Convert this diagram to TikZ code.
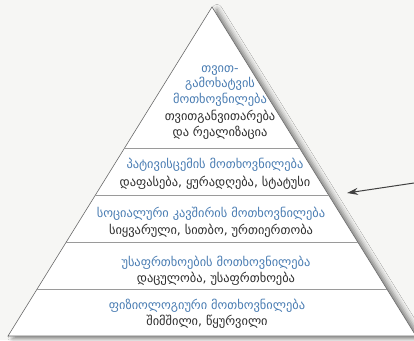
\documentclass[tikz,border=0pt]{standalone}
\usepackage{fontspec}
\setmainfont{DejaVu Sans}
\usetikzlibrary{calc,shadows.blur,arrows.meta}
\definecolor{paper}{HTML}{F6F6F4}
\definecolor{headblue}{HTML}{4A7DB3}
\definecolor{bodytext}{HTML}{2E2E2E}
\definecolor{edge}{HTML}{6A6A6A}
\definecolor{bandline}{HTML}{9A9A9A}
\begin{document}
\begin{tikzpicture}[x=1pt,y=-1pt,
  head/.style={text=headblue,font=\fontsize{12.4}{15.5}\selectfont,align=center,inner sep=0pt},
  body/.style={text=bodytext,font=\fontsize{12.4}{15.5}\selectfont,align=center,inner sep=0pt},
  band/.style={draw=bandline,line width=0.5pt},
  pointer/.style={draw=black!75,line width=1pt,-{Stealth[length=11pt,width=7pt]}}]
\fill[paper] (0,0) rectangle (414,340);
\useasboundingbox (0,0) rectangle (414,340);
\coordinate (apex) at (212,7);
\coordinate (bl) at (8,336);
\coordinate (br) at (416,336);
\fill[white,blur shadow={shadow xshift=5pt,shadow yshift=-2.5pt,shadow blur radius=5pt,shadow opacity=50}]
  (apex) -- (br) -- (bl) -- cycle;
\draw[edge,line width=0.6pt,line join=miter] (apex) -- (br) -- (bl) -- cycle;
\foreach \t in {3,4,5,6}{
  \draw[band] ($(apex)!\t/7!(bl)$) -- ($(apex)!\t/7!(br)$);
}
% level 1 (top)
\node[head] (l1h) at (220,86) {თვით-\\გამოხატვის\\მოთხოვნილება};
\node[body] (l1b) at (220,125) {თვითგანვითარება\\და რეალიზაცია};
% level 2
\node[head] (l2h) at (215,165) {პატივისცემის მოთხოვნილება};
\node[body] (l2b) at (215,183) {დაფასება, ყურადღება, სტატუსი};
% level 3
\node[head] (l3h) at (211,214) {სოციალური კავშირის მოთხოვნილება};
\node[body] (l3b) at (211,231) {სიყვარული, სითბო, ურთიერთობა};
% level 4
\node[head] (l4h) at (216,263) {უსაფრთხოების მოთხოვნილება};
\node[body] (l4b) at (216,279) {დაცულობა, უსაფრთხოება};
% level 5
\node[head] (l5h) at (207,306) {ფიზიოლოგიური მოთხოვნილება};
\node[body] (l5b) at (207,322) {შიმშილი, წყურვილი};
% arrow
\coordinate (tail) at (414,183);
\coordinate (tip) at (347,193);
\draw[pointer] (tail) -- (tip);
\end{tikzpicture}
\end{document}
